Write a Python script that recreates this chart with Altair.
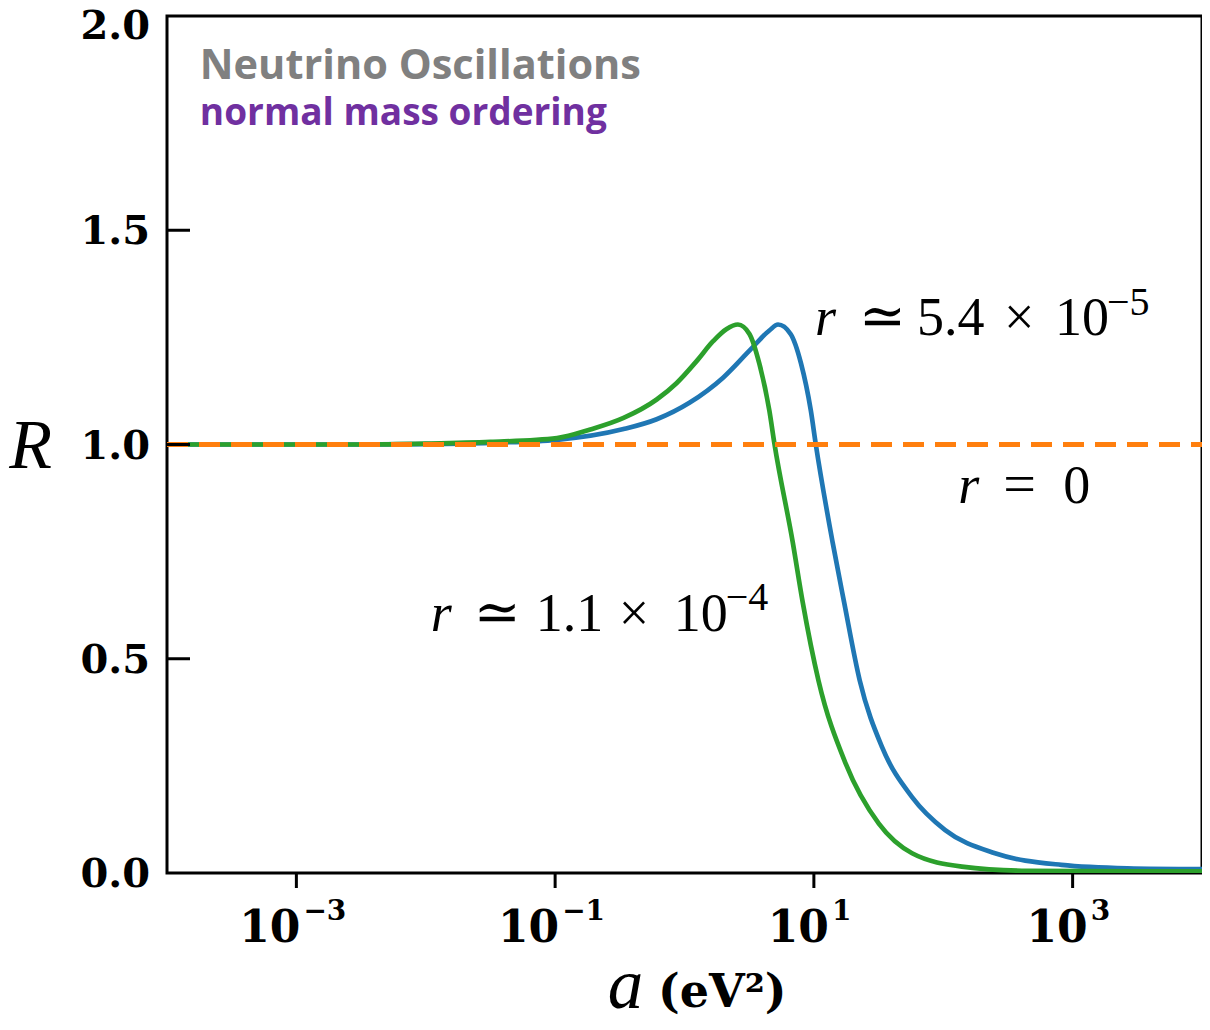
import altair as alt
import pandas as pd

# ---- data (log10 of a, and R) ----
blue_log_a = [-4.0, -3.0, -2.5, -2.0, -1.5, -0.985, -0.471, -0.215, 0.041, 0.298, 0.502,
              0.656, 0.723, 0.82, 0.90, 0.976, 1.015, 1.144, 1.233, 1.354, 1.528, 1.759,
              2.015, 2.400, 2.913, 3.423, 4.0]
blue_R = [1.000, 1.000, 1.000, 1.001, 1.004, 1.011, 1.036, 1.059, 1.098, 1.156, 1.219,
          1.266, 1.280, 1.258, 1.190, 1.080, 1.000, 0.773, 0.633, 0.450, 0.293, 0.177,
          0.100, 0.046, 0.019, 0.011, 0.009]

green_log_a = [-4.0, -3.0, -2.5, -2.0, -1.5, -0.985, -0.728, -0.471, -0.215, -0.062, 0.092,
               0.221, 0.323, 0.413, 0.502, 0.579, 0.656, 0.695, 0.836, 0.913, 1.035, 1.246,
               1.502, 1.759, 2.144, 2.654, 3.5, 4.0]
green_R = [1.000, 1.000, 1.000, 1.002, 1.006, 1.015, 1.035, 1.062, 1.105, 1.143, 1.194,
           1.241, 1.269, 1.280, 1.258, 1.188, 1.079, 1.002, 0.773, 0.633, 0.450, 0.255,
           0.115, 0.046, 0.015, 0.005, 0.004, 0.004]

orange_log_a = [-4.0, 4.0]
orange_R = [1.0, 1.0]

y_tick_values = [0.5, 1.0, 1.5]
y_label_values = [0.0, 0.5, 1.0, 1.5]
y_label_texts = ["0.0", "0.5", "1.0", "1.5"]
y_top_value = [2.0]
y_top_text = ["2.0"]
x_tick_values = [1e-3, 1e-1, 1e1, 1e3]
x_neg_values = [1e-3, 1e-1]
x_neg_exps = ["−3", "−1"]
x_pos_values = [1e1, 1e3]
x_pos_exps = ["1", "3"]

title_main = "Neutrino Oscillations"
title_sub = "normal mass ordering"

# annotation anchors (log10 a, R) and pieces (text, dx, dy, style, size)
ann_blue_anchor = (1.008, 1.256)
ann_blue_pieces = [("r", 0, 0, "italic", 54), ("≃", 44, 0, "normal", 56), ("5.4", 102, 0, "normal", 54),
                   ("×", 189, 0, "normal", 54), ("10", 240, 0, "normal", 54), ("−5", 292, -20, "normal", 40)]
ann_green_anchor = (-1.962, 0.565)
ann_green_pieces = [("r", 0, 0, "italic", 54), ("≃", 43, 0, "normal", 56), ("1.1", 105, 0, "normal", 54),
                    ("×", 188, 0, "normal", 54), ("10", 243, 0, "normal", 54), ("−4", 295, -21, "normal", 40)]
ann_zero_anchor = (2.115, 0.863)
ann_zero_pieces = [("r", 0, 0, "italic", 54), ("=", 45, 0, "normal", 58), ("0", 105, 0, "normal", 54)]

# ---- build frames ----
def frame(loga, R):
    return pd.DataFrame({"a": [10 ** v for v in loga], "R": R})

df_blue = frame(blue_log_a, blue_R)
df_green = frame(green_log_a, green_R)
df_orange = frame(orange_log_a, orange_R)
df_yt = pd.DataFrame({"R": y_tick_values})
df_xt = pd.DataFrame({"a": x_tick_values})
df_ylab = pd.DataFrame({"R": y_label_values, "t": y_label_texts})
df_ytop = pd.DataFrame({"R": y_top_value, "t": y_top_text})
df_xneg = pd.DataFrame({"a": x_neg_values, "e": x_neg_exps, "b": ["10"] * len(x_neg_values)})
df_xpos = pd.DataFrame({"a": x_pos_values, "e": x_pos_exps, "b": ["10"] * len(x_pos_values)})

W, H = 1035, 857

xscale = alt.Scale(type="log", domain=[1e-4, 1e4], nice=False)
yscale = alt.Scale(domain=[0, 2], nice=False)

xaxis = alt.Axis(values=x_tick_values, labels=False, grid=False, domain=False,
                 ticks=False, tickSize=0,
                 title="a", titleFont="Liberation Serif", titleFontStyle="italic",
                 titleFontWeight="normal", titleFontSize=71, titleColor="black",
                 titleX=458, titleY=134, titleAlign="center", titleBaseline="alphabetic")
yaxis = alt.Axis(values=[0.0, 0.5, 1.0, 1.5, 2.0], labels=False, grid=False, domain=False,
                 ticks=False, tickSize=0,
                 title="R", titleAngle=0, titleFont="Liberation Serif", titleFontStyle="italic",
                 titleFontWeight="normal", titleFontSize=70, titleColor="black",
                 titleX=-137, titleY=451, titleAlign="center", titleBaseline="alphabetic")

X = alt.X("a:Q", scale=xscale, axis=xaxis)
Y = alt.Y("R:Q", scale=yscale, axis=yaxis)

blue = alt.Chart(df_blue).mark_line(color="#1f77b4", strokeWidth=4.7, interpolate="monotone",
                                    clip=True).encode(x=X, y=Y)
green = alt.Chart(df_green).mark_line(color="#2ca02c", strokeWidth=4.7, interpolate="monotone",
                                      clip=True).encode(x=X, y=Y)
orange = alt.Chart(df_orange).mark_line(color="#ff7f0e", strokeWidth=5, strokeDash=[21, 11],
                                        clip=True).encode(x=X, y=Y)

yticks = alt.Chart(df_yt).mark_rule(color="black", strokeWidth=3).encode(
    y=Y, x=alt.value(0), x2=alt.value(23))
xticks = alt.Chart(df_xt).mark_rule(color="black", strokeWidth=3).encode(
    x=X, y=alt.value(H), y2=alt.value(H + 15))

ylabels = alt.Chart(df_ylab).mark_text(align="right", baseline="middle", dy=2,
                                       font="DejaVu Serif", fontWeight="bold", fontSize=40,
                                       color="black").encode(x=alt.value(-17), y=Y, text="t:N")
ytop = alt.Chart(df_ytop).mark_text(align="right", baseline="middle", dy=11,
                                    font="DejaVu Serif", fontWeight="bold", fontSize=40,
                                    color="black").encode(x=alt.value(-17), y=Y, text="t:N")

def xlabel_layers(df, base_dx, exp_dx):
    base = alt.Chart(df).mark_text(align="right", baseline="alphabetic", dx=base_dx,
                                   font="DejaVu Serif", fontWeight="bold", fontSize=44,
                                   color="black").encode(x=X, y=alt.value(H + 69), text="b:N")
    exp = alt.Chart(df).mark_text(align="left", baseline="alphabetic", dx=exp_dx,
                                  font="DejaVu Serif", fontWeight="bold", fontSize=28,
                                  color="black").encode(x=X, y=alt.value(H + 47), text="e:N")
    return [base, exp]

layers = [blue, green, orange, yticks, xticks, ylabels, ytop]
layers += xlabel_layers(df_xneg, 4, 7)
layers += xlabel_layers(df_xpos, 15, 18)

def piece_layers(anchor, pieces):
    out = []
    d = pd.DataFrame({"a": [10 ** anchor[0]], "R": [anchor[1]]})
    for text, dx, dy, style, size in pieces:
        font = "DejaVu Serif" if text == "≃" else "Liberation Serif"
        out.append(alt.Chart(d).mark_text(text=text, align="left", baseline="alphabetic",
                                          dx=dx, dy=dy, font=font, fontStyle=style,
                                          fontWeight="normal", fontSize=size,
                                          color="black").encode(x=X, y=Y))
    return out

layers += piece_layers(ann_blue_anchor, ann_blue_pieces)
layers += piece_layers(ann_green_anchor, ann_green_pieces)
layers += piece_layers(ann_zero_anchor, ann_zero_pieces)

title_df = pd.DataFrame({"a": [10 ** -3.746, 10 ** -3.746], "R": [1.853, 1.746],
                         "t": [title_main, title_sub]})
t1 = alt.Chart(title_df.iloc[[0]]).mark_text(align="left", baseline="alphabetic", font="Open Sans",
                                             fontWeight="bold", fontSize=41.5, color="#808080").encode(
    x=X, y=Y, text="t:N")
t2 = alt.Chart(title_df.iloc[[1]]).mark_text(align="left", baseline="alphabetic", font="Open Sans",
                                             fontWeight="bold", fontSize=37, color="#7030a0").encode(
    x=X, y=Y, text="t:N")
layers += [t1, t2]

unit_df = pd.DataFrame({"t": ["(eV²)"]})
unit = alt.Chart(unit_df).mark_text(align="left", baseline="alphabetic", font="DejaVu Serif",
                                    fontWeight="bold", fontSize=46, color="black").encode(
    x=alt.value(491), y=alt.value(H + 134), text="t:N")
layers.append(unit)

chart = alt.layer(*layers).properties(
    width=W, height=H,
    padding={"left": 159, "top": 8, "right": 0, "bottom": 149},
    autosize=alt.AutoSizeParams(type="none"),
    background="white",
).configure_view(stroke="black", strokeWidth=3)

chart.save("out.html", embed_options={"renderer": "svg", "actions": False})
